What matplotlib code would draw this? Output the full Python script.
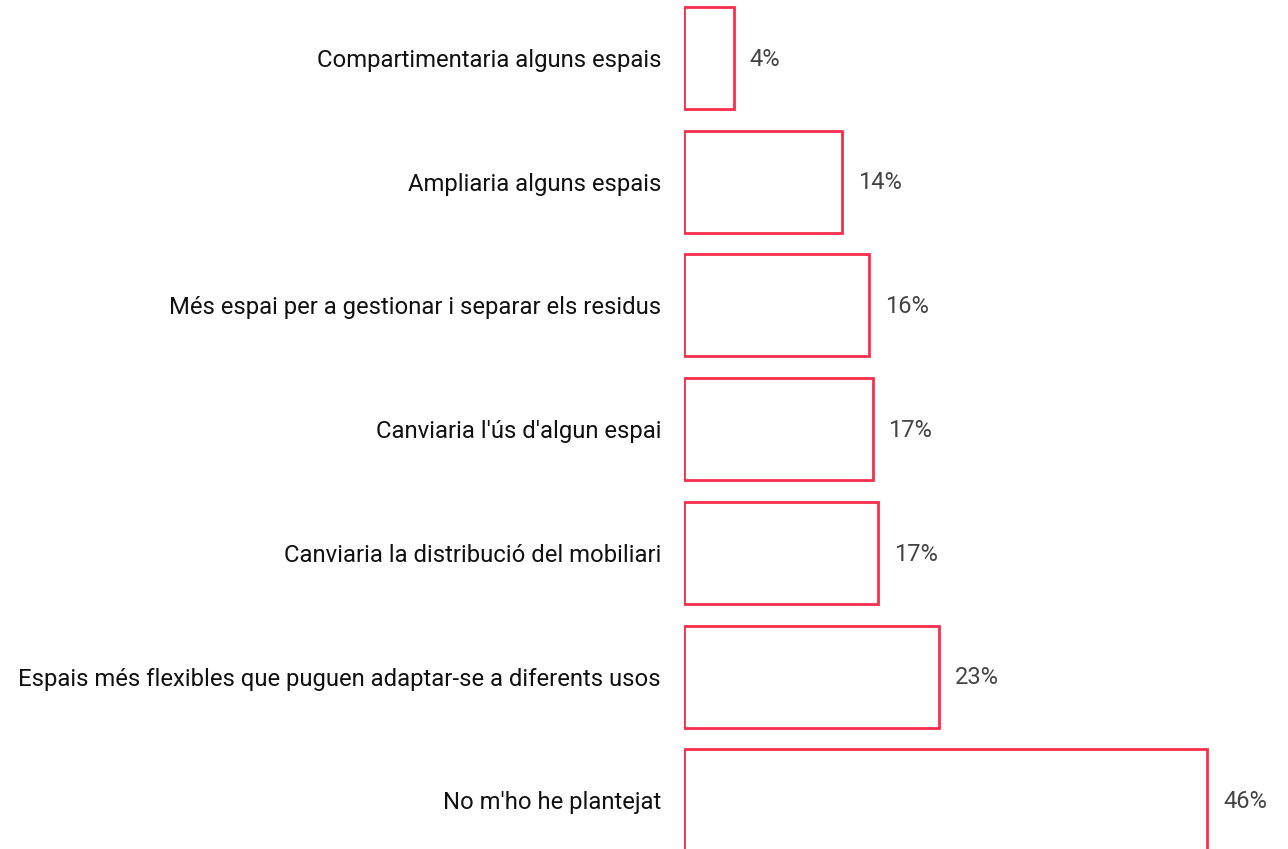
import matplotlib
matplotlib.use("Agg")
import matplotlib.pyplot as plt

categories = [
    "Compartimentaria alguns espais",
    "Ampliaria alguns espais",
    "Més espai per a gestionar i separar els residus",
    "Canviaria l'ús d'algun espai",
    "Canviaria la distribució del mobiliari",
    "Espais més flexibles que puguen adaptar-se a diferents usos",
    "No m'ho he plantejat",
]
values = [4.4, 14.0, 16.4, 16.7, 17.2, 22.6, 46.3]

plt.rcParams['font.family'] = ['Roboto', 'DejaVu Sans']

fig = plt.figure(figsize=(12.88, 8.49), dpi=100)
ax = fig.add_axes([684 / 1288, 0, 604 / 1288, 1])

ypos = list(range(len(categories)))
ax.barh(ypos, values, height=0.825, left=0, color='white',
        edgecolor='#fa2d4c', linewidth=2.0)

for y, v in zip(ypos, values):
    ax.text(v + 1.4, y + 0.01, "{:.0f}%".format(v), va='center', ha='left',
            fontsize=17, color='#444444')

ax.set_xlim(0, 53.45)
ax.set_ylim(6.394, -0.469)
ax.set_yticks(ypos)
ax.set_yticklabels(categories, fontsize=17.2, color='#111111')
ax.tick_params(axis='y', length=0, pad=16.5)
ax.set_xticks([])
for s in ax.spines.values():
    s.set_visible(False)

fig.savefig("out.png", dpi=100)
